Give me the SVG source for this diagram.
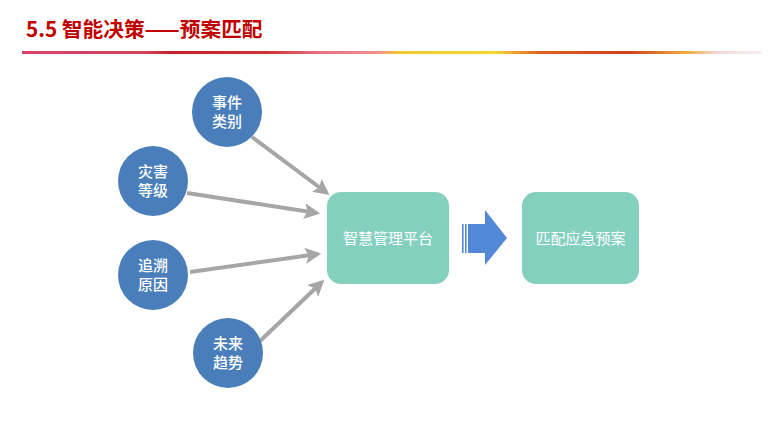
<svg xmlns="http://www.w3.org/2000/svg" width="780" height="439" viewBox="0 0 780 439">
<defs>
<style>
.title{font-family:"Noto Sans CJK SC","Liberation Sans",sans-serif;font-weight:bold;font-size:20.7px;fill:#C00000}
.circ{fill:#4A7EBB}
.ct{font-family:"Noto Sans CJK SC",sans-serif;font-size:15px;font-weight:500;fill:#fff;text-anchor:middle}
.box{fill:#84D0BF}
.bt{font-family:"Noto Sans CJK SC",sans-serif;font-size:15px;fill:#fff;text-anchor:middle}
.con{stroke:#A6A6A6;stroke-width:4;fill:none;marker-end:url(#ah)}
</style>
<marker id="ah" markerWidth="4" markerHeight="4" refX="3.2" refY="2" orient="auto" markerUnits="strokeWidth" viewBox="0 0 4 4">
<path d="M0,0 L4,2 L0,4 L0.8,2 Z" fill="#A6A6A6"/>
</marker>
<linearGradient id="hl" x1="22" y1="0" x2="762" y2="0" gradientUnits="userSpaceOnUse">
<stop offset="0" stop-color="#D9436A"/>
<stop offset="0.17" stop-color="#D2405A"/>
<stop offset="0.2" stop-color="#C8202A"/>
<stop offset="0.33" stop-color="#D03030"/>
<stop offset="0.4" stop-color="#E87080"/>
<stop offset="0.48" stop-color="#EE9090"/>
<stop offset="0.51" stop-color="#F2C830"/>
<stop offset="0.64" stop-color="#F5D830"/>
<stop offset="0.7" stop-color="#E06020"/>
<stop offset="0.82" stop-color="#D04020"/>
<stop offset="0.9" stop-color="#F0B040"/>
<stop offset="0.94" stop-color="#F4D8D8"/>
<stop offset="1" stop-color="#F4F0F0"/>
</linearGradient>
</defs>
<rect width="780" height="439" fill="#fff"/>
<text class="title" x="26" y="37">5.5 智能决策——预案匹配</text>
<rect x="22" y="51" width="740" height="3" fill="url(#hl)"/>
<g id="connectors">
<line class="con" x1="252" y1="137" x2="327" y2="193"/>
<line class="con" x1="187" y1="193" x2="317" y2="213"/>
<line class="con" x1="190" y1="272" x2="318" y2="254"/>
<line class="con" x1="259" y1="342" x2="322" y2="282"/>
<g id="blockarrow" fill="#5189D8">
<rect x="462" y="224" width="1.6" height="29"/>
<rect x="465" y="224" width="1.6" height="29"/>
<path d="M468,224 L485,224 L485,210 L507,238 L485,265 L485,253 L468,253 Z"/>
</g>
</g>
<g id="n1"><circle class="circ" cx="227" cy="112" r="35"/><text class="ct" x="227" y="108">事件</text><text class="ct" x="227" y="127">类别</text></g>
<g id="n2"><circle class="circ" cx="153" cy="181" r="35"/><text class="ct" x="153" y="177">灾害</text><text class="ct" x="153" y="196">等级</text></g>
<g id="n3"><circle class="circ" cx="153" cy="275" r="35"/><text class="ct" x="153" y="271">追溯</text><text class="ct" x="153" y="290">原因</text></g>
<g id="n4"><circle class="circ" cx="228" cy="353" r="35"/><text class="ct" x="228" y="349">未来</text><text class="ct" x="228" y="368">趋势</text></g>
<g id="platform"><rect class="box" x="327" y="192" width="122" height="92" rx="14"/><text class="bt" x="388" y="244">智慧管理平台</text></g>
<g id="plan"><rect class="box" x="522" y="192" width="117" height="92" rx="14"/><text class="bt" x="580.5" y="244">匹配应急预案</text></g>
</svg>
